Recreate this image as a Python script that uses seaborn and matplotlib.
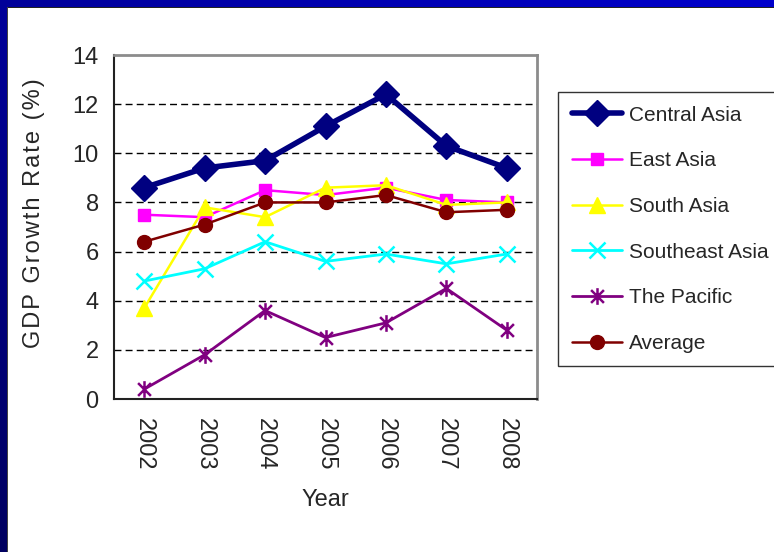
import numpy as np
import pandas as pd
import matplotlib
matplotlib.use("Agg")
import matplotlib.pyplot as plt
from matplotlib.path import Path
from matplotlib.patches import Rectangle
from matplotlib.colors import LinearSegmentedColormap
import seaborn as sns

# GDP growth rates (%) by region
years = ["2002", "2003", "2004", "2005", "2006", "2007", "2008"]
central_asia = [8.6, 9.4, 9.7, 11.1, 12.4, 10.3, 9.4]
east_asia = [7.5, 7.4, 8.5, 8.3, 8.6, 8.1, 8.0]
south_asia = [3.7, 7.8, 7.4, 8.6, 8.7, 7.9, 8.0]
southeast_asia = [4.8, 5.3, 6.4, 5.6, 5.9, 5.5, 5.9]
the_pacific = [0.4, 1.8, 3.6, 2.5, 3.1, 4.5, 2.8]
average = [6.4, 7.1, 8.0, 8.0, 8.3, 7.6, 7.7]

series_names = ["Central Asia", "East Asia", "South Asia",
                "Southeast Asia", "The Pacific", "Average"]
series_values = [central_asia, east_asia, south_asia,
                 southeast_asia, the_pacific, average]
y_ticks = [0, 2, 4, 6, 8, 10, 12, 14]
y_title = "GDP Growth Rate (%)"
x_title = "Year"

sns.set_theme(style="white")
plt.rcParams["font.family"] = ["Liberation Sans", "DejaVu Sans"]


def spaced(text, gap="\u200a"):
    """Open up letter spacing with hair spaces between characters."""
    return gap.join(text)


# asterisk marker: an x crossed by a vertical bar
asterisk = Path(
    [(-1, -1), (1, 1), (-1, 1), (1, -1), (0, -1.3), (0, 1.3)],
    [Path.MOVETO, Path.LINETO, Path.MOVETO, Path.LINETO, Path.MOVETO, Path.LINETO],
)

styles = {
    "Central Asia": dict(color="#000080", marker="D", ms=13, lw=4.0, fill=True),
    "East Asia": dict(color="#FF00FF", marker="s", ms=9, lw=1.8, fill=True),
    "South Asia": dict(color="#FFFF00", marker="^", ms=11, lw=1.8, fill=True),
    "Southeast Asia": dict(color="#00FFFF", marker="x", ms=11, lw=2.0, fill=False),
    "The Pacific": dict(color="#800080", marker=asterisk, ms=12, lw=2.0, fill=False),
    "Average": dict(color="#800000", marker="o", ms=10, lw=1.8, fill=True),
}

rows = []
for name, vals in zip(series_names, series_values):
    for yr, v in zip(years, vals):
        rows.append({"Year": yr, "Region": name, "Growth": v})
df = pd.DataFrame(rows)

fig = plt.figure(figsize=(7.74, 5.52), dpi=100)
fig.patch.set_facecolor("white")

# blue frame along the top and left edges
W, H = 774, 552
bg = fig.add_axes([0, 0, 1, 1], zorder=-10)
bg.set_xlim(0, W)
bg.set_ylim(H, 0)
bg.axis("off")
cmap_top = LinearSegmentedColormap.from_list("top", ["#00009A", "#0000CC"])
cmap_left = LinearSegmentedColormap.from_list("left", ["#00009A", "#000060"])
bg.imshow(np.linspace(0, 1, 256).reshape(1, -1), extent=(0, W, 7, 0),
          cmap=cmap_top, aspect="auto")
bg.imshow(np.linspace(0, 1, 256).reshape(-1, 1), extent=(0, 7, H, 0),
          cmap=cmap_left, aspect="auto")
bg.add_patch(Rectangle((7, 7), W, 1.2, color="#222222", lw=0))
bg.add_patch(Rectangle((7, 7), 1.2, H, color="#444444", lw=0))

ax = fig.add_axes([114 / W, 1 - 399 / H, (537 - 114) / W, (399 - 55) / H])

for name in series_names:
    st = styles[name]
    sub = df[df["Region"] == name]
    kw = dict(markeredgecolor=st["color"])
    if st["fill"]:
        kw.update(markerfacecolor=st["color"], markeredgewidth=1.0)
    else:
        kw.update(markerfacecolor="none", markeredgewidth=1.8)
    sns.lineplot(data=sub, x="Year", y="Growth", ax=ax, color=st["color"],
                 marker=st["marker"], markersize=st["ms"], linewidth=st["lw"],
                 label=name, legend=False, zorder=3, **kw)

ax.set_xlim(-0.5, len(years) - 0.5)
ax.set_ylim(0, 14)
ax.set_yticks(y_ticks)
ax.set_yticklabels([str(t) for t in y_ticks], fontsize=17)
for t in y_ticks[1:-1]:
    ax.axhline(t, color="black", lw=1.0, dashes=(5, 3), zorder=1)

ax.set_xticks(range(len(years)))
ax.set_xticklabels(years, rotation=-90, fontsize=17)
ax.set_xticks(np.arange(-0.5, len(years)), minor=True)
ax.tick_params(axis="x", which="major", length=0, pad=14)
ax.tick_params(axis="x", which="minor", length=6, width=1.2, color="#333333",
               direction="out")
ax.tick_params(axis="y", length=6, width=1.2, color="#333333", direction="out",
               pad=5)

for side in ["top", "right"]:
    ax.spines[side].set_color("#8c8c8c")
    ax.spines[side].set_linewidth(2)
for side in ["left", "bottom"]:
    ax.spines[side].set_color("#222222")
    ax.spines[side].set_linewidth(1.5)

ax.set_xlabel(x_title, fontsize=17)
ax.xaxis.set_label_coords(0.5, -(489 - 399) / 344)
ax.set_ylabel(spaced(y_title), fontsize=17)
ax.yaxis.set_label_coords(-(114 - 45) / 423, (399 - 213) / 344)

handles, labels = ax.get_legend_handles_labels()
leg = fig.legend(handles, labels, loc="upper left",
                 bbox_to_anchor=(558 / W, 1 - 92 / H), fontsize=15,
                 frameon=True, fancybox=False, borderpad=0.65,
                 labelspacing=1.28, handlelength=2.4, handletextpad=0.35,
                 borderaxespad=0)
leg.get_frame().set_edgecolor("black")
leg.get_frame().set_linewidth(1.0)

fig.savefig("out.png", dpi=100, facecolor="white")
